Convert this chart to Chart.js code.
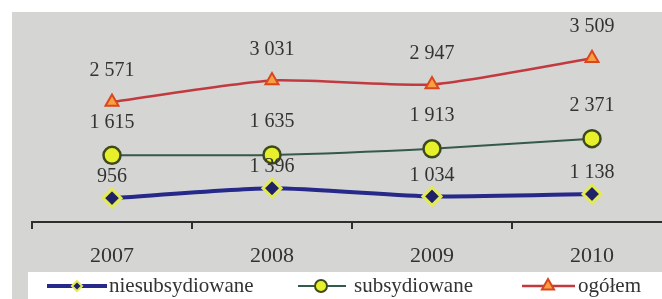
<!DOCTYPE html>
<html><head><meta charset="utf-8">
<script src="https://cdn.jsdelivr.net/npm/chart.js@4.4.1/dist/chart.umd.min.js"></script>
<style>
html,body{margin:0;padding:0;background:#fff;overflow:hidden;width:662px;height:299px;}
#wrap{position:absolute;left:0;top:0;width:700px;height:299px;}
</style></head><body>
<div id="wrap"><canvas id="c" width="700" height="299"></canvas></div>
<script>
// ---- data ----
const years = ['2007', '2008', '2009', '2010'];
const niesubsydiowane = [956, 1396, 1034, 1138];
const subsydiowane = [1615, 1635, 1913, 2371];
const ogolem = [2571, 3031, 2947, 3509];
const seriesNames = ['niesubsydiowane', 'subsydiowane', 'ogółem'];

const SERIF = '"Liberation Serif", "Times New Roman", serif';
const TEXT = '#333333';

function fmt(v) { return String(v).replace(/\B(?=(\d{3})+(?!\d))/g, ' '); }

const bgPlugin = {
  id: 'bg',
  beforeDraw(chart) {
    const ctx = chart.ctx;
    ctx.save();
    ctx.fillStyle = '#d5d5d3';
    ctx.fillRect(12, 12, chart.width - 12, chart.height - 12);
    ctx.restore();
  }
};

const labelPlugin = {
  id: 'vlabels',
  afterDatasetsDraw(chart) {
    const ctx = chart.ctx;
    ctx.save();
    ctx.font = '20px ' + SERIF;
    ctx.fillStyle = TEXT;
    ctx.textAlign = 'center';
    ctx.textBaseline = 'middle';
    chart.data.datasets.forEach((ds, i) => {
      const meta = chart.getDatasetMeta(i);
      meta.data.forEach((el, j) => {
        ctx.fillText(fmt(ds.data[j]), el.x, el.y - ds.labelOffset);
      });
    });
    ctx.restore();
  }
};

function marker(ctx, style, x, y, r, fill, stroke, lw) {
  ctx.save();
  ctx.beginPath();
  if (style === 'rectRot') {
    ctx.moveTo(x - r, y); ctx.lineTo(x, y - r); ctx.lineTo(x + r, y); ctx.lineTo(x, y + r);
    ctx.closePath();
  } else if (style === 'circle') {
    ctx.arc(x, y, r, 0, Math.PI * 2);
  } else {
    ctx.moveTo(x, y - r);
    ctx.lineTo(x + r * 0.866, y + r * 0.5);
    ctx.lineTo(x - r * 0.866, y + r * 0.5);
    ctx.closePath();
  }
  ctx.fillStyle = fill; ctx.fill();
  ctx.lineWidth = lw; ctx.strokeStyle = stroke; ctx.stroke();
  ctx.restore();
}

const legendPlugin = {
  id: 'customLegend',
  afterDraw(chart) {
    const ctx = chart.ctx;
    ctx.save();
    ctx.fillStyle = '#ffffff';
    ctx.fillRect(28, 272, chart.width - 28, chart.height - 272);
    const y = 286;
    const items = [
      { x1: 47, x2: 107, mx: 77, tx: 109, r: 5 },
      { x1: 298, x2: 346, mx: 321, tx: 354, r: 6 },
      { x1: 522, x2: 575, mx: 548, tx: 578, r: 7 }
    ];
    chart.data.datasets.forEach((ds, i) => {
      const it = items[i];
      ctx.beginPath();
      ctx.moveTo(it.x1, y); ctx.lineTo(it.x2, y);
      ctx.strokeStyle = ds.borderColor; ctx.lineWidth = ds.borderWidth; ctx.stroke();
      marker(ctx, ds.pointStyle, it.mx, y, it.r, ds.pointBackgroundColor, ds.pointBorderColor, 2);
      ctx.font = '21px ' + SERIF;
      ctx.fillStyle = TEXT;
      ctx.textAlign = 'left';
      ctx.textBaseline = 'middle';
      ctx.fillText(ds.label, it.tx, y);
    });
    ctx.restore();
  }
};

new Chart(document.getElementById('c'), {
  type: 'line',
  data: {
    labels: years,
    datasets: [
      {
        label: seriesNames[0], data: niesubsydiowane, yAxisID: 'yB',
        borderColor: '#26288a', borderWidth: 4, tension: 0.2,
        pointStyle: 'rectRot', pointRadius: 9, pointBorderWidth: 3,
        pointBackgroundColor: '#1f2266', pointBorderColor: '#e4ea55',
        labelOffset: 21
      },
      {
        label: seriesNames[1], data: subsydiowane, yAxisID: 'yG',
        borderColor: '#35594b', borderWidth: 2, tension: 0.2,
        pointStyle: 'circle', pointRadius: 8.5, pointBorderWidth: 2.5,
        pointBackgroundColor: '#e8f02c', pointBorderColor: '#3d4a1c',
        labelOffset: 33
      },
      {
        label: seriesNames[2], data: ogolem, yAxisID: 'y',
        borderColor: '#c23a40', borderWidth: 2.5, tension: 0.2,
        pointStyle: 'triangle', pointRadius: 7.5, pointBorderWidth: 2,
        pointBackgroundColor: '#f7a040', pointBorderColor: '#d9461f',
        labelOffset: 31
      }
    ]
  },
  options: {
    responsive: false,
    animation: false,
    devicePixelRatio: 1,
    layout: { padding: { left: 32, right: 28, top: 11, bottom: 27 } },
    plugins: { legend: { display: false }, tooltip: { enabled: false } },
    scales: {
      x: {
        offset: true,
        grid: { offset: true, drawOnChartArea: false, drawTicks: true, tickLength: 7, color: '#2e2e2e', lineWidth: 2 },
        border: { display: true, color: '#2e2e2e', width: 2 },
        ticks: { font: { family: SERIF, size: 22 }, color: TEXT, padding: 14 },
        afterFit: (s) => { s.height = 50; }
      },
      y: { type: 'linear', display: false, min: 0, max: 4500 },
      yB: { type: 'linear', display: false, min: -100, max: 9200 },
      yG: { type: 'linear', display: false, min: -1400, max: 8100 }
    }
  },
  plugins: [bgPlugin, labelPlugin, legendPlugin]
});
</script>
</body></html>
